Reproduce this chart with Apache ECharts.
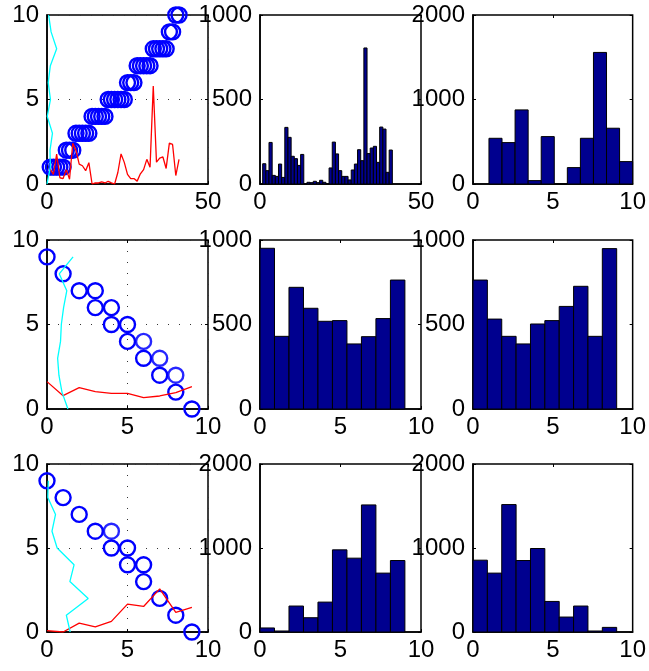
<!DOCTYPE html>
<html>
<head>
<meta charset="utf-8">
<script src="https://cdn.jsdelivr.net/npm/echarts@6/dist/echarts.min.js"></script>
<style>
html,body{margin:0;padding:0;background:#fff}
#chart{width:649px;height:671px}
</style>
</head>
<body>
<div id="chart"></div>
<script>
// row 1 : sorted sample, its histogram and the histogram of the values
var sc1X = [1,2,3,4,5,6,7,8,9,10,11,12,13,14,15,16,17,18,19,20,21,22,23,24,25,26,27,28,29,30,31,32,33,34,35,36,37,38,39,40,41];
var sc1Y = [1,1,1,1,1,2,2,2,3,3,3,3,3,4,4,4,4,4,5,5,5,5,5,5,6,6,6,7,7,7,7,7,8,8,8,8,8,9,9,10,10];
var red1X = [1,2,3,4,5,6,7,8,9,10,11,12,13,14,15,16,17,18,19,20,21,22,23,24,25,26,27,28,29,30,31,32,33,34,35,36,37,38,39,40,41];
var red1Y = [0.86,0.57,1.77,0.37,0.32,0.85,0.28,2.41,1.99,1.18,1.08,0.79,1.26,0,0.07,0.06,0.12,0.06,0.16,0.07,0,0.68,1.78,1.28,0.57,0.32,0.32,0.17,0.6,0.85,1.46,0.99,5.79,1.29,1.53,1.6,0.92,2.42,2.34,0.5,1.45];
var cyan1X = [0,1.04,0.94,1.69,0.08,1.08,0.37,1.04,3.0,1.27,0.51];
var cyan1Y = [0,1,2,3,4,5,6,7,8,9,10];
var hist1 = [120,79,246,51,45,118,39,335,276,164,150,110,175,0,10,8,16,8,22,10,0,95,248,178,79,45,45,24,83,118,203,138,805,180,213,223,128,337,325,69,201];
var hist1Range = [0.83, 41.1];
var hist2 = [541,490,877,40,561,0,194,541,1557,660,265];
var hist2Range = [1, 10];

// row 2
var sc2X = [0,1,2,3,3,4,4,5,5,6,7,8,9];
var sc2Y = [9,8,7,7,6,6,5,5,4,3,2,1,0];
var sc2LightX = [6,7,8];
var sc2LightY = [4,3,2];
var red2X = [0,1,2,3,4,5,6,7,8,9];
var red2Y = [1.62,0.79,1.26,1.03,0.93,0.93,0.67,0.77,0.97,1.32];
var cyan2X = [1.3,0.93,0.74,0.66,0.84,0.89,1.03,1.23,0.76,1.62];
var cyan2Y = [0,1,2,3,4,5,6,7,8,9];
var hist3 = [951,430,720,596,519,523,385,428,535,763];
var hist4 = [763,532,430,385,503,523,607,726,430,949];

// row 3
var sc3X = [0,1,2,3,4,5,5,6,6,7,8,9];
var sc3Y = [9,8,7,6,5,5,4,4,3,2,1,0];
var sc3LightX = [4];
var sc3LightY = [6];
var red3X = [0,1,2,3,4,5,6,7,8,9];
var red3Y = [0.08,0,0.53,0.3,0.63,1.66,1.52,2.57,1.17,1.47];
var cyan3X = [1.44,1.2,2.56,1.42,1.68,0.63,0.31,0.53,0.05,0.08];
var cyan3Y = [0,1,2,3,4,5,6,7,8,9];
var hist5 = [48,12,309,170,356,978,879,1513,701,851];
var hist6 = [855,701,1517,851,994,364,178,309,12,55];
var histIntRange = [0, 9];

// axis ranges: [min, max, interval]
var panelX = [[0,50,50],[0,50,50],[0,10,5],[0,10,5],[0,10,5],[0,10,5],[0,10,5],[0,10,5],[0,10,5]];
var panelY = [[0,10,5],[0,1000,500],[0,2000,1000],[0,10,5],[0,1000,500],[0,1000,500],[0,10,5],[0,2000,1000],[0,2000,1000]];
var panelDots = [true,false,false,true,false,false,true,false,false];

var colLeft = [47, 260, 473], colWidth = [161, 161, 160];
var rowTop = [15, 240, 464], rowHeight = [169, 169, 168];
var font = 'Liberation Sans, Arial, Helvetica, sans-serif';
var dotted = {color: '#333', type: [1, 10], width: 1};

var grids = [], xAxes = [], yAxes = [];
for (var i = 0; i < 9; i++) {
    var r = Math.floor(i / 3), c = i % 3;
    grids.push({left: colLeft[c], top: rowTop[r], width: colWidth[c], height: rowHeight[r],
        show: true, borderColor: '#000', borderWidth: 1.5, backgroundColor: 'transparent'});
}
function axis(range, gi, pos, main, dots) {
    return {
        type: 'value', gridIndex: gi, position: pos,
        min: range[0], max: range[1], interval: range[2],
        axisLine: {show: main, onZero: false, lineStyle: {color: '#000', width: 1.5}},
        axisTick: {show: true, inside: true, length: 3, lineStyle: {color: '#000'}},
        axisLabel: {show: main, color: '#000', fontSize: 24, fontFamily: font,
            margin: (pos === 'bottom') ? 6 : 8,
            formatter: function (v) { return String(v); }},
        splitLine: {show: main && dots, lineStyle: dotted}
    };
}
for (var i = 0; i < 9; i++) {
    xAxes.push(axis(panelX[i], i, 'bottom', true, panelDots[i]));
    yAxes.push(axis(panelY[i], i, 'left', true, panelDots[i]));
}
for (var i = 0; i < 9; i++) {
    xAxes.push(axis(panelX[i], i, 'top', false, false));
    yAxes.push(axis(panelY[i], i, 'right', false, false));
}

function pairs(xs, ys) {
    return xs.map(function (x, k) { return [x, ys[k]]; });
}
function circles(idx, xs, ys, op) {
    return {
        type: 'scatter', xAxisIndex: idx, yAxisIndex: idx, data: pairs(xs, ys),
        symbol: 'circle', symbolSize: 15, clip: false, z: 3,
        itemStyle: {color: 'transparent', borderColor: '#0000ff', borderWidth: 2.4, opacity: op}
    };
}
function curve(idx, xs, ys, col) {
    return {
        type: 'line', xAxisIndex: idx, yAxisIndex: idx, data: pairs(xs, ys),
        symbol: 'none', showSymbol: false, z: 4,
        lineStyle: {color: col, width: 1.3}
    };
}
function hist(idx, range, counts) {
    var w = (range[1] - range[0]) / counts.length;
    var data = counts.map(function (v, k) { return [range[0] + k * w, range[0] + (k + 1) * w, v]; });
    return {
        type: 'custom', xAxisIndex: idx, yAxisIndex: idx, data: data, z: 2,
        encode: {x: [0, 1], y: 2},
        renderItem: function (params, api) {
            var p0 = api.coord([api.value(0), 0]);
            var p1 = api.coord([api.value(1), api.value(2)]);
            return {
                type: 'rect',
                shape: {x: p0[0], y: p1[1], width: p1[0] - p0[0], height: p0[1] - p1[1]},
                style: {fill: '#00008f', stroke: '#000', lineWidth: 1}
            };
        }
    };
}

var series = [
    circles(0, sc1X, sc1Y, 1),
    curve(0, red1X, red1Y, '#ff0000'),
    curve(0, cyan1X, cyan1Y, '#00ffff'),
    hist(1, hist1Range, hist1),
    hist(2, hist2Range, hist2),
    circles(3, sc2X, sc2Y, 1),
    circles(3, sc2LightX, sc2LightY, 0.85),
    curve(3, red2X, red2Y, '#ff0000'),
    curve(3, cyan2X, cyan2Y, '#00ffff'),
    hist(4, histIntRange, hist3),
    hist(5, histIntRange, hist4),
    circles(6, sc3X, sc3Y, 1),
    circles(6, sc3LightX, sc3LightY, 0.85),
    curve(6, red3X, red3Y, '#ff0000'),
    curve(6, cyan3X, cyan3Y, '#00ffff'),
    hist(7, histIntRange, hist5),
    hist(8, histIntRange, hist6)
];

echarts.init(document.getElementById('chart')).setOption({
    animation: false,
    backgroundColor: '#fff',
    grid: grids,
    xAxis: xAxes,
    yAxis: yAxes,
    series: series
});
</script>
</body>
</html>
